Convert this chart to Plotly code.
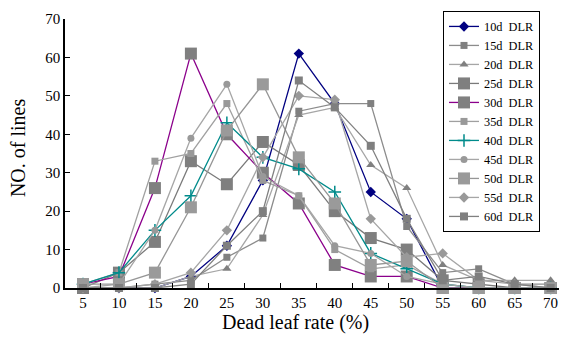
import plotly.graph_objects as go

categories = ["5", "10", "15", "20", "25", "30", "35", "40", "45", "50", "55", "60", "65", "70"]

d10 = [0, 0, 0, 3, 11, 28, 61, 48, 25, 18, 0, 0, 0, 0]
d15 = [0, 0, 1, 2, 8, 13, 46, 48, 48, 16, 4, 5, 1, 1]
d20 = [0, 0, 0, 3, 5, 19, 45, 47, 32, 26, 6, 2, 2, 2]
d25 = [0, 4, 12, 33, 27, 38, 32, 20, 13, 10, 2, 1, 0, 0]
d30 = [1, 3, 26, 61, 40, 30, 22, 6, 3, 3, 0, 0, 0, 0]
d35 = [1, 4, 33, 35, 48, 28, 24, 10, 5, 6, 1, 0, 0, 0]
d40 = [1, 4, 15, 24, 43, 34, 31, 25, 9, 5, 1, 0, 0, 0]
d45 = [0, 1, 15, 39, 53, 29, 24, 11, 9, 3, 1, 0, 0, 0]
d50 = [1, 1, 4, 21, 41, 53, 34, 22, 6, 7, 0, 0, 0, 0]
d55 = [0, 0, 1, 4, 15, 34, 50, 49, 18, 8, 9, 2, 1, 0]
d60 = [0, 0, 0, 1, 11, 20, 54, 47, 37, 18, 2, 3, 1, 0]

gap = "\u00a0" * 2
series_names = [f"{d}d{gap}DLR" for d in (10, 15, 20, 25, 30, 35, 40, 45, 50, 55, 60)]
series_values = [d10, d15, d20, d25, d30, d35, d40, d45, d50, d55, d60]

styles = [
    dict(line="#000080", marker="#000080", symbol="diamond", size=8),
    dict(line="#8c8c8c", marker="#808080", symbol="square", size=7),
    dict(line="#a6a6a6", marker="#808080", symbol="triangle-up", size=8),
    dict(line="#7a7a7a", marker="#7f7f7f", symbol="square", size=12),
    dict(line="#8b008b", marker="#808080", symbol="square", size=12),
    dict(line="#a0a0a0", marker="#999999", symbol="square", size=7),
    dict(line="#008b8b", marker="#008b8b", symbol="cross-thin", size=9),
    dict(line="#a6a6a6", marker="#999999", symbol="circle", size=7),
    dict(line="#969696", marker="#9a9a9a", symbol="square", size=12),
    dict(line="#a6a6a6", marker="#999999", symbol="diamond", size=8),
    dict(line="#808080", marker="#7f7f7f", symbol="square", size=8),
]

fig = go.Figure()
for name, vals, st in zip(series_names, series_values, styles):
    mk = dict(color=st["marker"], symbol=st["symbol"], size=st["size"])
    if st["symbol"] == "cross-thin":
        mk["line"] = dict(color=st["marker"], width=1.5)
    else:
        mk["line"] = dict(width=0)
    fig.add_trace(go.Scatter(
        x=categories, y=vals, name=name, mode="lines+markers",
        line=dict(color=st["line"], width=1.3),
        marker=mk, cliponaxis=False,
    ))

fig.update_layout(
    width=559, height=341,
    margin=dict(l=57, r=2, t=11, b=61, autoexpand=False),
    paper_bgcolor="white", plot_bgcolor="white",
    font=dict(family="Liberation Serif", size=15, color="black"),
    showlegend=True,
    legend=dict(
        x=0.756, y=1.03, xanchor="left", yanchor="top",
        bordercolor="black", borderwidth=1, bgcolor="white",
        font=dict(family="Liberation Serif", size=12.3, color="black"),
        tracegroupgap=0, itemwidth=30, maxheight=400,
    ),
    annotations=[
        dict(text="Dead leaf rate (%)", xref="paper", yref="paper", x=0.46, y=-0.127,
             xanchor="center", yanchor="middle", showarrow=False,
             font=dict(family="Liberation Serif", size=20, color="black")),
        dict(text="NO. of lines", xref="paper", yref="paper", x=-0.094, y=0.52,
             xanchor="center", yanchor="middle", showarrow=False, textangle=-90,
             font=dict(family="Liberation Serif", size=20, color="black")),
    ],
)
fig.update_xaxes(
    type="category", range=[-0.5, 13.4], automargin=False,
    showline=True, linecolor="black", linewidth=1.5,
    ticks="inside", ticklen=5, tickcolor="black", tickson="boundaries",
    showgrid=False, zeroline=False,
    tickfont=dict(size=15),
)
fig.update_yaxes(
    range=[0, 70], tickvals=[0, 10, 20, 30, 40, 50, 60, 70], automargin=False,
    showline=True, linecolor="black", linewidth=1.5,
    ticks="inside", ticklen=5, tickcolor="black",
    showgrid=False, zeroline=False,
    tickfont=dict(size=15),
)

fig.write_html("out.html")
